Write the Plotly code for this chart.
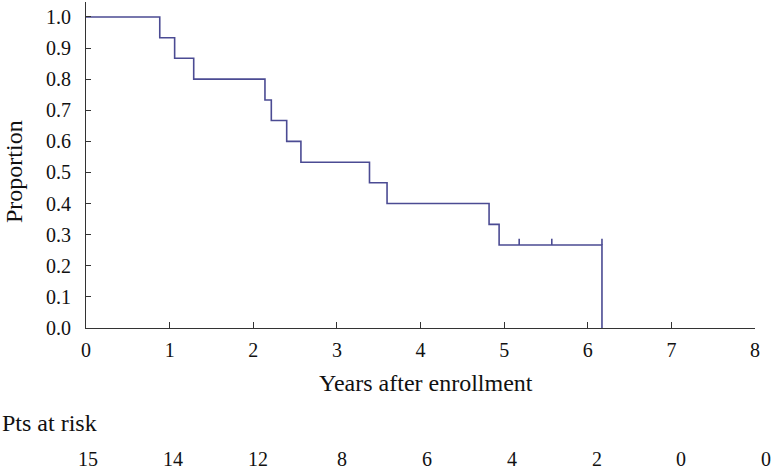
import plotly.graph_objects as go

# Kaplan-Meier data
event_times = [0.882, 1.06, 1.288, 2.14, 2.216, 2.40, 2.57, 3.39, 3.60, 4.82, 4.94, 6.17]
survival = [1.0, 0.933, 0.867, 0.800, 0.733, 0.667, 0.600, 0.533, 0.467, 0.400, 0.333, 0.267, 0.0]
censor_times = [5.18, 5.57, 6.17]
censor_surv = [0.267, 0.267, 0.267]

at_risk_years = [0, 1, 2, 3, 4, 5, 6, 7, 8]
at_risk = [15, 14, 12, 8, 6, 4, 2, 0, 0]

x_ticks = [0, 1, 2, 3, 4, 5, 6, 7, 8]

LINE = "#4b4b93"
AXIS = "#333333"
FONT = "Liberation Serif, Times New Roman, serif"

curve_x = [0.0] + event_times
curve_y = survival

fig = go.Figure()
fig.add_trace(go.Scatter(
    x=curve_x, y=curve_y, mode="lines", line=dict(color=LINE, width=1.6, shape="hv"),
    showlegend=False, hoverinfo="skip", cliponaxis=False))

# censor ticks (short vertical marks above the curve)
tick_h = 0.02
cx, cy = [], []
for t, s in zip(censor_times, censor_surv):
    cx += [t, t, None]
    cy += [s, s + tick_h, None]
fig.add_trace(go.Scatter(x=cx, y=cy, mode="lines", line=dict(color=LINE, width=1.6),
                         showlegend=False, hoverinfo="skip", cliponaxis=False))

L, R, T, B = 86, 17, 2, 142
W, H = 772, 470
pw = W - L - R
ph = H - T - B
X_MAX = 8.0

def px_to_paper_y(py):
    return (H - B - py) / ph

def px_to_paper_x(pxx):
    return (pxx - L) / pw

annotations = []
annotations.append(dict(text="Years after enrollment", xref="paper", yref="paper",
                        x=px_to_paper_x(426), y=px_to_paper_y(383), xanchor="center", yanchor="middle",
                        showarrow=False, font=dict(family=FONT, size=24, color="#111")))
annotations.append(dict(text="Proportion", xref="paper", yref="paper",
                        x=px_to_paper_x(14), y=px_to_paper_y(172), xanchor="center", yanchor="middle",
                        textangle=-90, showarrow=False, font=dict(family=FONT, size=24, color="#111")))
annotations.append(dict(text="Pts at risk", xref="paper", yref="paper",
                        x=px_to_paper_x(0), y=px_to_paper_y(423), xanchor="left", yanchor="middle",
                        showarrow=False, font=dict(family=FONT, size=24, color="#111")))
for yr, n in zip(at_risk_years, at_risk):
    annotations.append(dict(text=str(n), xref="paper", yref="paper",
                            x=(0.024 + yr * 1.0135) / X_MAX, y=px_to_paper_y(459),
                            xanchor="center", yanchor="middle",
                            showarrow=False, font=dict(family=FONT, size=20, color="#111")))

fig.update_layout(
    width=W, height=H, margin=dict(l=L, r=R, t=T, b=B),
    plot_bgcolor="white", paper_bgcolor="white",
    font=dict(family=FONT, size=18, color="#111"),
    annotations=annotations,
    xaxis=dict(range=[0, X_MAX], tickvals=x_ticks, ticktext=[str(v) for v in x_ticks],
               showgrid=False, zeroline=False, showline=True, linecolor=AXIS, linewidth=1.2,
               ticks="inside", ticklen=6, tickcolor=AXIS, tickwidth=1.2,
               tickfont=dict(family=FONT, size=20), ticklabelstandoff=4),
    yaxis=dict(range=[0, 1.048], tick0=0, dtick=0.1, tickformat=".1f",
               showgrid=False, zeroline=False, showline=True, linecolor=AXIS, linewidth=1.2,
               ticks="inside", ticklen=5, tickcolor=AXIS, tickwidth=1.2,
               tickfont=dict(family=FONT, size=20), ticklabelstandoff=10),
)

fig.write_html("out.html", config={"displayModeBar": False},
               post_script="document.body.style.margin='0';document.body.style.overflow='hidden';")
